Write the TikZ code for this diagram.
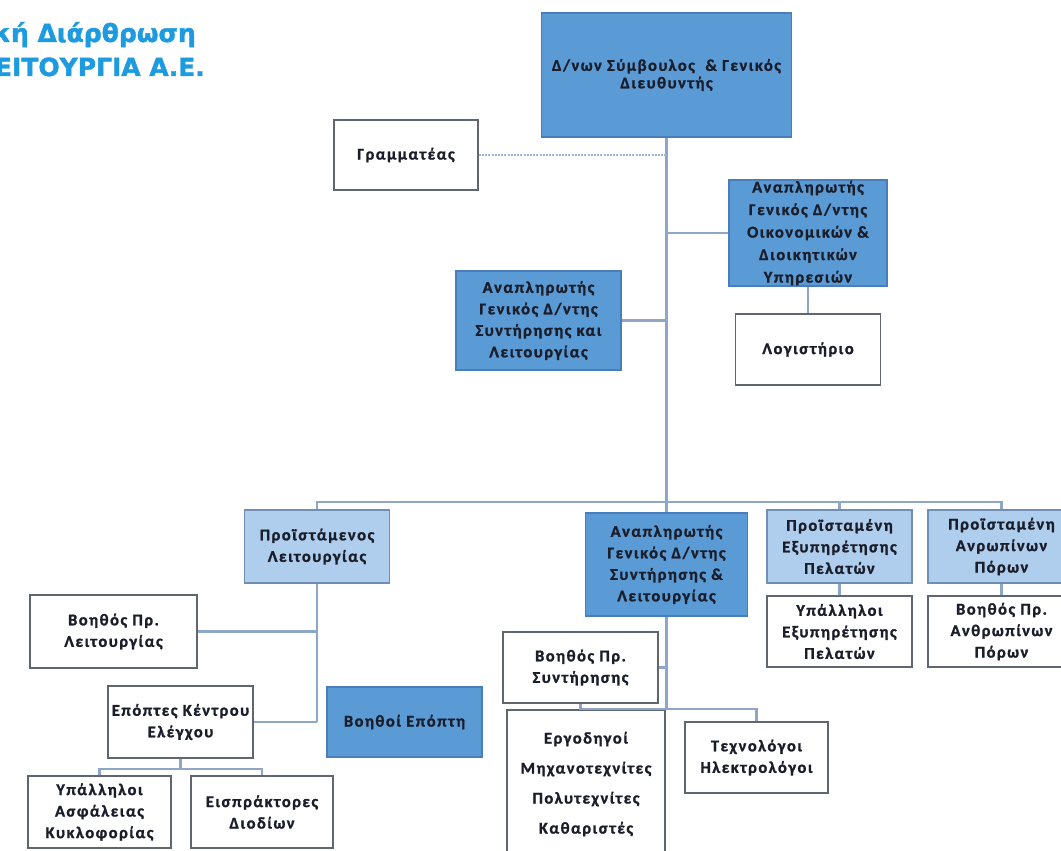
\documentclass[tikz,border=0pt]{standalone}
\usepackage{fontspec}
\newfontfamily\boxfont{Carlito}[LetterSpace=9, BoldFeatures={FakeBold=1.2}]
\newfontfamily\titlefont{DejaVu Sans}[BoldFeatures={FakeBold=1.5}]
\definecolor{dblue}{HTML}{5B9BD5}
\definecolor{dblueb}{HTML}{4A7EBB}
\definecolor{lblue}{HTML}{AFCDEC}
\definecolor{lblueb}{HTML}{6F8FB5}
\definecolor{boxgray}{HTML}{5F6670}
\definecolor{lineblue}{HTML}{8EA6C8}
\definecolor{dotblue}{HTML}{9FB4D4}
\definecolor{txt}{HTML}{1A1D2A}
\definecolor{titleblue}{HTML}{1C9BE0}
\tikzset{
  box/.style={draw=boxgray, line width=1.7pt, fill=white, align=center, inner sep=1pt,
    text=txt, font=\boxfont\bfseries\fontsize{16.5}{21.5}\selectfont},
  dbox/.style={box, fill=dblue, draw=dblueb},
  lbox/.style={box, fill=lblue, draw=lblueb},
  conn/.style={draw=lineblue, line width=2.2pt},
  dotconn/.style={draw=dotblue, line width=2pt, dash pattern=on 2pt off 1.2pt},
  title/.style={text=titleblue, font=\titlefont\bfseries\fontsize{25}{30}\selectfont, inner sep=0pt}
}
\begin{document}
\begin{tikzpicture}[x=1pt,y=-1pt]
\useasboundingbox (0,0) rectangle (1061,851);
\clip (0,0) rectangle (1061,851);
\fill[white] (0,0) rectangle (1061,851);
% title
\node[title, anchor=base east] (t1) at (196,42) {κή Διάρθρωση};
\node[title, anchor=base east] (t2) at (205,76) {ΕΙΤΟΥΡΓΙΑ Α.Ε.};
\coordinate (bus) at (317,502);
% nodes
\node[dbox, minimum width=250, minimum height=124, font=\boxfont\bfseries\fontsize{16.5}{17.5}\selectfont] (top) at (666.5,75) {Δ/νων Σύμβουλος \ \& Γενικός\\Διευθυντής};
\node[box, minimum width=144, minimum height=70] (gram) at (406,155) {Γραμματέας};
\node[dbox, minimum width=158, minimum height=104, font=\boxfont\bfseries\fontsize{16.5}{22.5}\selectfont] (oik) at (808,233) {Αναπληρωτής\\Γενικός Δ/ντης\\Οικονομικών \&\\Διοικητικών\\Υπηρεσιών};
\node[box, minimum width=145, minimum height=71] (logi) at (808,349.5) {Λογιστήριο};
\node[dbox, minimum width=165, minimum height=99] (syl) at (538.5,320.5) {Αναπληρωτής\\Γενικός Δ/ντης\\Συντήρησης και\\Λειτουργίας};
\node[lbox, minimum width=145, minimum height=73] (pl) at (317,546.5) {Προϊστάμενος\\Λειτουργίας};
\node[dbox, minimum width=162, minimum height=103] (as) at (666.5,564.5) {Αναπληρωτής\\Γενικός Δ/ντης\\Συντήρησης \&\\Λειτουργίας};
\node[lbox, minimum width=145, minimum height=73] (pep) at (839.5,546.5) {Προϊσταμένη\\Εξυπηρέτησης\\Πελατών};
\node[box, minimum width=145, minimum height=71] (yep) at (839.5,631.5) {Υπάλληλοι\\Εξυπηρέτησης\\Πελατών};
\node[lbox, minimum width=147, minimum height=73] (pap) at (1001.5,546.5) {Προϊσταμένη\\Ανρωπίνων\\Πόρων};
\node[box, minimum width=147, minimum height=71] (bap) at (1001.5,631.5) {Βοηθός Πρ.\\Ανθρωπίνων\\Πόρων};
\node[box, minimum width=167, minimum height=73] (bpl) at (113.5,631.5) {Βοηθός Πρ.\\Λειτουργίας};
\node[box, minimum width=145, minimum height=72] (epo) at (180.5,722) {Επόπτες Κέντρου\\Ελέγχου};
\node[dbox, minimum width=155, minimum height=70] (boe) at (404.5,722) {Βοηθοί Επόπτη};
\node[box, minimum width=143, minimum height=72] (yak) at (99.5,812) {Υπάλληλοι\\Ασφάλειας\\Κυκλοφορίας};
\node[box, minimum width=142, minimum height=72] (eis) at (262,812) {Εισπράκτορες\\Διοδίων};
\node[box, minimum width=155, minimum height=71] (bps) at (580.5,667.5) {Βοηθός Πρ.\\Συντήρησης};
\node[box, minimum width=158, minimum height=148, font=\boxfont\bfseries\fontsize{16.5}{30}\selectfont] (erg) at (586,784) {Εργοδηγοί\\Μηχανοτεχνίτες\\Πολυτεχνίτες\\Καθαριστές};
\node[box, minimum width=143, minimum height=71] (tex) at (756.5,757.5) {Τεχνολόγοι\\Ηλεκτρολόγοι};
% connectors
\draw[conn] (top.south) -- (as.north);
\draw[dotconn] (gram.east) -- (gram.east -| top.south);
\draw[conn] (oik.west) -- (oik.west -| top.south);
\draw[conn] (syl.east) -- (syl.east -| top.south);
\draw[conn] (oik.south) -- (logi.north);
\draw[conn] (pl.north) |- (pap.north |- bus) -- (pap.north);
\draw[conn] (pep.north) -- (pep.north |- bus);
\draw[conn] (pep.south) -- (yep.north);
\draw[conn] (pap.south) -- (bap.north);
\draw[conn] (pl.south) -- (pl.south |- epo.east);
\draw[conn] (epo.east) -- (epo.east -| pl.south);
\draw[conn] (bpl.east) -- (bpl.east -| pl.south);
\draw[conn] (epo.south) -- ++(0,10) coordinate (ej);
\draw[conn] (yak.north) |- (ej) -| (eis.north);
\draw[conn] (as.south) -- (as.south |- erg.north);
\draw[conn] (bps.east) -- (bps.east -| as.south);
\draw[conn] (bps.south) |- (tex.north |- erg.north) -- (tex.north);
\end{tikzpicture}
\end{document}
